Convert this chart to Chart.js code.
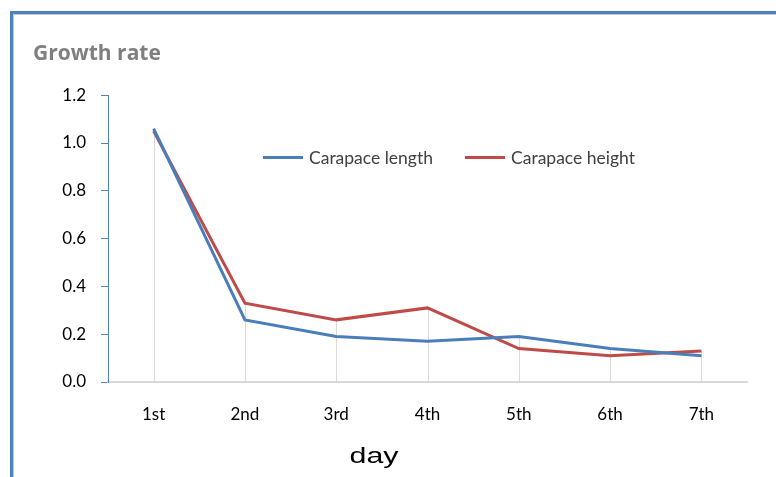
<!DOCTYPE html>
<html>
<head>
<meta charset="utf-8">
<script src="https://cdn.jsdelivr.net/npm/chart.js@4"></script>
<style>
  body { margin: 0; background: #fff; }
  #wrap { position: relative; width: 776px; height: 477px; overflow: hidden; }
  #frame {
    position: absolute; left: 10px; top: 11px; width: 800px; height: 500px;
    border-left: 3px solid #4f81bd; border-top: 3px solid #4f81bd;
    box-shadow: inset 1px 1px 0 #c8c8c8;
  }
  canvas { position: absolute; left: 0; top: 0; }
  #legend { position: absolute; left: 263px; top: 147px; display: flex; font: 17.5px Lato, sans-serif; color: #404040; }
  #legend .item { display: flex; align-items: center; margin-right: 32px; }
  #legend .swatch { width: 40px; height: 3px; margin-right: 6px; }
</style>
</head>
<body>
<div id="wrap">
  <div id="frame"></div>
  <canvas id="growthChart" width="776" height="477"></canvas>
  <div id="legend"></div>
</div>
<script>
// chart values
const days = ['1st', '2nd', '3rd', '4th', '5th', '6th', '7th'];
const carapaceLength = [1.06, 0.26, 0.19, 0.17, 0.19, 0.14, 0.11];
const carapaceHeight = [1.05, 0.33, 0.26, 0.31, 0.14, 0.11, 0.13];
const yTicks = [0, 0.2, 0.4, 0.6, 0.8, 1.0, 1.2];

// vertical drop lines from the axis up to the highest point of each day
const dropLines = {
    id: 'dropLines',
    beforeDatasetsDraw(chart) {
        const { ctx, scales: { x, y } } = chart;
        ctx.save();
        ctx.strokeStyle = '#d9d9d9';
        ctx.lineWidth = 1;
        days.forEach((d, i) => {
            const top = Math.max(...chart.data.datasets.map(ds => ds.data[i]));
            const px = Math.round(x.getPixelForValue(i)) + 0.5;
            ctx.beginPath();
            ctx.moveTo(px, y.getPixelForValue(0));
            ctx.lineTo(px, y.getPixelForValue(top));
            ctx.stroke();
        });
        ctx.restore();
    }
};

// axis name under the day labels (the original is stretched sideways)
const dayLabel = {
    id: 'dayLabel',
    afterDraw(chart) {
        const ctx = chart.ctx;
        ctx.save();
        ctx.translate(374, 457);
        ctx.scale(1.38, 1);
        ctx.font = '22px "Liberation Sans", Arial, sans-serif';
        ctx.fillStyle = '#000';
        ctx.textAlign = 'center';
        ctx.textBaseline = 'middle';
        ctx.fillText('day', 0, 0);
        ctx.restore();
    }
};

const chart = new Chart(document.getElementById('growthChart'), {
    type: 'line',
    data: {
        labels: days,
        datasets: [
            { label: 'Carapace length', data: carapaceLength, borderColor: '#4a7ebb', backgroundColor: '#4a7ebb' },
            { label: 'Carapace height', data: carapaceHeight, borderColor: '#be4b48', backgroundColor: '#be4b48' }
        ]
    },
    options: {
        responsive: false,
        animation: false,
        layout: { padding: { left: 33, right: 29, top: 0, bottom: 0 } },
        elements: {
            line: { borderWidth: 3, tension: 0 },
            point: { radius: 0, hoverRadius: 0 }
        },
        plugins: {
            legend: { display: false },
            tooltip: { enabled: false },
            title: {
                display: true,
                text: 'Growth rate',
                align: 'start',
                color: '#7f7f7f',
                font: { family: '"Open Sans", sans-serif', size: 21, weight: 'bold' },
                padding: { top: 41, bottom: 29 }
            }
        },
        scales: {
            x: {
                offset: true,
                grid: { display: false, drawTicks: false },
                border: { color: '#d9d9d9', width: 2 },
                ticks: { color: '#000', padding: 22, font: { family: 'Lato, sans-serif', size: 17 } },
                afterFit(scale) { scale.height = 95; }
            },
            y: {
                min: 0,
                max: 1.2,
                afterBuildTicks(scale) { scale.ticks = yTicks.map(v => ({ value: v })); },
                grid: { drawOnChartArea: false, drawTicks: true, tickLength: 7, color: '#4f81bd' },
                border: { color: '#4f81bd', width: 1 },
                ticks: {
                    color: '#000',
                    padding: 15,
                    font: { family: 'Lato, sans-serif', size: 17 },
                    callback: v => v.toFixed(1)
                },
                afterFit(scale) { scale.width = 75; }
            }
        }
    },
    plugins: [dropLines, dayLabel]
});

// legend built from the chart's datasets
const legendEl = document.getElementById('legend');
chart.data.datasets.forEach(ds => {
    const item = document.createElement('div');
    item.className = 'item';
    const sw = document.createElement('span');
    sw.className = 'swatch';
    sw.style.background = ds.borderColor;
    const txt = document.createElement('span');
    txt.textContent = ds.label;
    item.appendChild(sw);
    item.appendChild(txt);
    legendEl.appendChild(item);
});
</script>
</body>
</html>
